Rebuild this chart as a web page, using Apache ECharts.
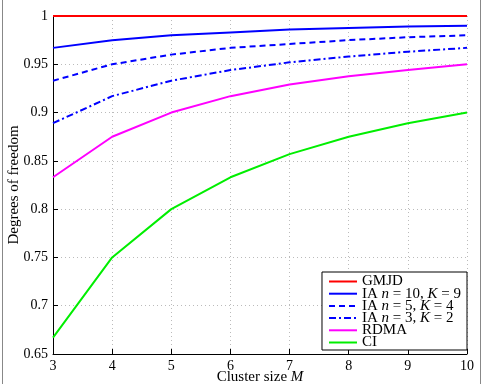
<!DOCTYPE html>
<html>
<head>
<meta charset="utf-8">
<style>
  html, body { margin: 0; padding: 0; background: #fff; }
  #chart { width: 486px; height: 384px; }
</style>
<script src="https://cdn.jsdelivr.net/npm/echarts@6/dist/echarts.min.js"></script>
</head>
<body>
<div id="chart"></div>
<script>
// cluster sizes on the x axis
const clusterSizes = [3, 4, 5, 6, 7, 8, 9, 10];

// degrees of freedom
const gmjd = [1, 1, 1, 1, 1, 1, 1, 1];
const ia10 = [0.967, 0.975, 0.980, 0.983, 0.986, 0.9875, 0.989, 0.990];
const ia5 = [0.933, 0.950, 0.960, 0.967, 0.971, 0.975, 0.978, 0.980];
const ia3 = [0.889, 0.917, 0.933, 0.944, 0.952, 0.958, 0.963, 0.967];
const rdma = [0.833, 0.875, 0.900, 0.917, 0.929, 0.9375, 0.944, 0.950];
const ci = [0.667, 0.750, 0.800, 0.833, 0.857, 0.875, 0.889, 0.900];

const seriesNames = ['GMJD', 'IA n10', 'IA n5', 'IA n3', 'RDMA', 'CI'];
const legendLabels = {
  'GMJD': '{r|GMJD}',
  'IA n10': '{r|IA }{i|n}{r| = 10, }{i|K}{r| = 9}',
  'IA n5': '{r|IA }{i|n}{r| = 5, }{i|K}{r| = 4}',
  'IA n3': '{r|IA }{i|n}{r| = 3, }{i|K}{r| = 2}',
  'RDMA': '{r|RDMA}',
  'CI': '{r|CI}'
};

const font = 'Liberation Serif';

function pairs(ys) {
  return clusterSizes.map((x, i) => [x, ys[i]]);
}

function line(name, ys, color, type) {
  return {
    name: name,
    type: 'line',
    data: pairs(ys),
    showSymbol: false,
    symbol: 'none',
    lineStyle: { color: color, width: 2, type: type || 'solid' },
    itemStyle: { color: color },
    emphasis: { disabled: true },
    animation: false
  };
}

const chart = echarts.init(document.getElementById('chart'));

const option = {
  animation: false,
  grid: { left: 53, right: 19, top: 16, bottom: 30, outerBoundsMode: 'none', containLabel: false },
  legend: {
    data: seriesNames,
    orient: 'vertical',
    right: 19,
    bottom: 34,
    backgroundColor: '#fff',
    borderColor: '#000',
    borderWidth: 1,
    borderRadius: 0,
    padding: [2, 6, 0, 6],
    itemWidth: 28,
    itemHeight: 10,
    itemGap: -2.8,
    itemStyle: { color: 'transparent', borderWidth: 0, opacity: 0 },
    textStyle: {
      fontFamily: font,
      fontSize: 15,
      color: '#000',
      lineHeight: 12,
      rich: {
        r: { fontFamily: font, fontSize: 15, color: '#000', lineHeight: 12 },
        i: { fontFamily: font, fontSize: 15, fontStyle: 'italic', color: '#000', lineHeight: 12 }
      }
    },
    formatter: name => legendLabels[name]
  },
  xAxis: {
    type: 'value',
    min: 3,
    max: 10,
    interval: 1,
    name: '{r|Cluster size }{i|M}',
    nameLocation: 'middle',
    nameGap: 16,
    nameMoveOverlap: false,
    nameTextStyle: {
      rich: {
        r: { fontFamily: font, fontSize: 15, color: '#000' },
        i: { fontFamily: font, fontSize: 15, color: '#000', fontStyle: 'italic' }
      }
    },
    axisLine: { lineStyle: { color: '#000', width: 1 } },
    axisTick: { inside: true, length: 5, lineStyle: { color: '#000' } },
    axisLabel: { fontFamily: font, fontSize: 14, color: '#000', margin: 5 },
    splitLine: { show: true, lineStyle: { color: '#bbb', type: [1, 3], width: 1 } }
  },
  yAxis: {
    type: 'value',
    min: 0.65,
    max: 1,
    interval: 0.05,
    name: 'Degrees of freedom',
    nameLocation: 'middle',
    nameGap: 31,
    nameMoveOverlap: false,
    nameRotate: 90,
    nameTextStyle: { fontFamily: font, fontSize: 15, color: '#000' },
    axisLine: { show: true, lineStyle: { color: '#000', width: 1 } },
    axisTick: { show: true, inside: true, length: 5, lineStyle: { color: '#000' } },
    axisLabel: {
      fontFamily: font, fontSize: 14, color: '#000', margin: 5,
      formatter: v => String(Math.round(v * 100) / 100)
    },
    splitLine: { show: true, lineStyle: { color: '#bbb', type: [1, 3], width: 1 } }
  },
  graphic: [
    { type: 'line', shape: { x1: 2.5, y1: 0, x2: 2.5, y2: 384 }, style: { stroke: '#888', lineWidth: 1 } },
    { type: 'line', shape: { x1: 480.5, y1: 0, x2: 480.5, y2: 384 }, style: { stroke: '#888', lineWidth: 1 } }
  ],
  series: [
    line('GMJD', gmjd, '#ff0000'),
    line('IA n10', ia10, '#0000ff'),
    line('IA n5', ia5, '#0000ff', [6, 4]),
    line('IA n3', ia3, '#0000ff', [7, 3, 2, 3]),
    line('RDMA', rdma, '#ff00ff'),
    line('CI', ci, '#00ee00')
  ]
};

chart.setOption(option);
</script>
</body>
</html>
